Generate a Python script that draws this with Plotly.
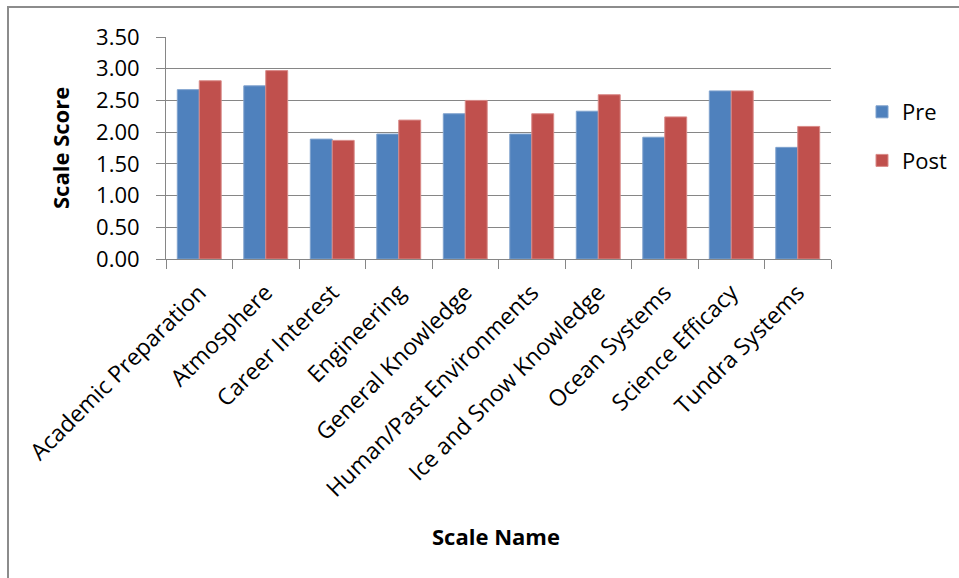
import plotly.graph_objects as go

categories = ["Academic Preparation", "Atmosphere", "Career Interest", "Engineering",
              "General Knowledge", "Human/Past Environments", "Ice and Snow Knowledge",
              "Ocean Systems", "Science Efficacy", "Tundra Systems"]
pre = [2.67, 2.73, 1.89, 1.97, 2.29, 1.97, 2.33, 1.92, 2.65, 1.76]
post = [2.81, 2.97, 1.87, 2.19, 2.50, 2.29, 2.59, 2.24, 2.65, 2.09]
y_ticks = [0, 0.5, 1.0, 1.5, 2.0, 2.5, 3.0, 3.5]
y_tick_labels = ["0.00", "0.50", "1.00", "1.50", "2.00", "2.50", "3.00", "3.50"]

FONT = "Open Sans"
W, H = 959, 578
L, R, T, B = 166, 128, 37, 319
pw = W - L - R
ph = H - T - B

def px_x(px):
    return (px - L) / pw

def px_y(py):
    return (H - B - py) / ph

fig = go.Figure()
fig.add_trace(go.Bar(x=categories, y=pre, name="Pre", legendgroup="a",
                     marker=dict(color="#4F81BD", line=dict(color="#7FA2CE", width=1))))
fig.add_trace(go.Bar(x=categories, y=post, name="Post", legendgroup="b",
                     marker=dict(color="#C0504D", line=dict(color="#D98A88", width=1))))

fig.update_layout(
    width=W, height=H,
    margin=dict(l=L, r=R, t=T, b=B, pad=0),
    paper_bgcolor="white", plot_bgcolor="white",
    barmode="group", bargap=0.34, bargroupgap=0,
    font=dict(family=FONT, color="#000000", size=21),
    showlegend=True,
    legend=dict(xref="container", yref="container",
                x=862 / W, y=1 - 91 / H, xanchor="left", yanchor="top",
                font=dict(family=FONT, size=22, color="#000000"),
                tracegroupgap=17, traceorder="grouped",
                bgcolor="rgba(0,0,0,0)", borderwidth=0, itemwidth=30),
    xaxis=dict(
        type="category", tickangle=-45, tickson="boundaries",
        ticks="outside", ticklen=9, tickcolor="#868686", tickwidth=1,
        showline=True, linecolor="#868686", linewidth=1,
        showgrid=False, range=[-0.5, 9.5],
        ticklabelstandoff=10,
        tickfont=dict(family=FONT, size=23, color="#000000"),
        automargin=False,
    ),
    yaxis=dict(
        range=[0, 3.5], tickvals=y_ticks, ticktext=y_tick_labels,
        ticks="outside", ticklen=9, tickcolor="#868686", tickwidth=1,
        showline=True, linecolor="#868686", linewidth=1,
        showgrid=True, gridcolor="#868686", gridwidth=1,
        zeroline=False,
        ticklabelstandoff=12,
        tickfont=dict(family=FONT, size=22, color="#000000"),
        automargin=False,
    ),
)

fig.add_annotation(text="<b>Scale Name</b>", xref="paper", yref="paper",
                   x=px_x(496), y=px_y(536), xanchor="center", yanchor="middle",
                   showarrow=False, font=dict(family=FONT, size=22, color="#000000"))
fig.add_annotation(text="<b>Scale Score</b>", xref="paper", yref="paper",
                   x=px_x(60), y=px_y(148), xanchor="center", yanchor="middle",
                   textangle=-90, showarrow=False,
                   font=dict(family=FONT, size=22, color="#000000"))

# Outer chart frame (extends beyond the visible page on right and bottom)
fig.add_shape(type="rect", xref="paper", yref="paper",
              x0=px_x(8), x1=px_x(975), y0=px_y(600), y1=px_y(7),
              line=dict(color="#8C8C8C", width=2), fillcolor="rgba(0,0,0,0)", layer="below")

fig.write_html("out.html")
